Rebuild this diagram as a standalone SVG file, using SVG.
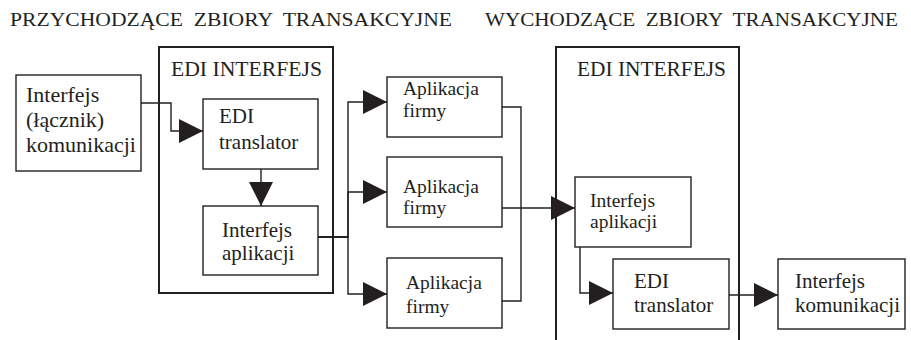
<svg xmlns="http://www.w3.org/2000/svg" width="911" height="340" viewBox="0 0 911 340">
<style>
text{font-family:'Liberation Serif','DejaVu Serif',serif;font-size:21px;fill:#231f20}
.t{font-size:19.5px}
.a{font-size:19.5px}
.l{font-size:22px}
.box{fill:#fff;stroke:#231f20;stroke-width:1.4}
.outer{fill:none;stroke:#231f20;stroke-width:2}
.c{fill:none;stroke:#231f20;stroke-width:1.4}
</style>
<defs>
<marker id="ah" markerUnits="userSpaceOnUse" markerWidth="26" markerHeight="25" refX="24" refY="12" orient="auto">
<path d="M0,0 L24,12 L0,24 Z" fill="#231f20"/>
</marker>
</defs>
<rect width="911" height="340" fill="#fff"/>
<g id="titles">
<text class="t" x="10" y="26" textLength="442" lengthAdjust="spacingAndGlyphs" xml:space="preserve">PRZYCHODZĄCE  ZBIORY  TRANSAKCYJNE</text>
<text class="t" x="485" y="26" textLength="413" lengthAdjust="spacingAndGlyphs" xml:space="preserve">WYCHODZĄCE  ZBIORY  TRANSAKCYJNE</text>
</g>
<g id="edi-left">
<rect class="outer" x="159" y="47" width="174" height="246"/>
<text x="171" y="76" textLength="151" lengthAdjust="spacingAndGlyphs">EDI INTERFEJS</text>
</g>
<g id="edi-right">
<path class="outer" d="M556,341 V47 H739 V341"/>
<text x="577" y="76" textLength="149" lengthAdjust="spacingAndGlyphs">EDI INTERFEJS</text>
</g>
<g id="connectors">
<path class="c" d="M141,103 H171 V131 H203" marker-end="url(#ah)"/>
<path class="c" d="M261,169 V206" marker-end="url(#ah)"/>
<path class="c" d="M318,237 H348 V102 H387" marker-end="url(#ah)"/>
<path class="c" d="M318,237 H348 V192 H387" marker-end="url(#ah)"/>
<path class="c" d="M318,237 H348 V294 H387" marker-end="url(#ah)"/>
<path class="c" d="M502,107 H521 V208"/>
<path class="c" d="M502,301 H521 V208"/>
<path class="c" d="M502,208 H575" marker-end="url(#ah)"/>
<path class="c" d="M580,247 V293 H613" marker-end="url(#ah)"/>
<path class="c" d="M729,295 H778" marker-end="url(#ah)"/>
</g>
<g id="komunikacja-in">
<rect class="box" x="16" y="75" width="125" height="96"/>
<text class="l" x="26" y="102">Interfejs</text>
<text class="l" x="26" y="127">(łącznik)</text>
<text class="l" x="26" y="152">komunikacji</text>
</g>
<g id="translator-left">
<rect class="box" x="203" y="99" width="115" height="70"/>
<text x="219" y="123">EDI</text>
<text x="219" y="149">translator</text>
</g>
<g id="aplikacji-left">
<rect class="box" x="203" y="206" width="115" height="69"/>
<text x="222" y="237">Interfejs</text>
<text x="222" y="260">aplikacji</text>
</g>
<g id="app1">
<rect class="box" x="387" y="77" width="115" height="60"/>
<text class="a" x="403" y="95">Aplikacja</text>
<text class="a" x="403" y="117">firmy</text>
</g>
<g id="app2">
<rect class="box" x="387" y="157" width="115" height="70"/>
<text class="a" x="403" y="193">Aplikacja</text>
<text class="a" x="403" y="214">firmy</text>
</g>
<g id="app3">
<rect class="box" x="387" y="258" width="115" height="70"/>
<text class="a" x="406" y="289">Aplikacja</text>
<text class="a" x="406" y="313">firmy</text>
</g>
<g id="aplikacji-right">
<rect class="box" x="575" y="177" width="116" height="70"/>
<text class="a" x="590" y="207">Interfejs</text>
<text class="a" x="590" y="228">aplikacji</text>
</g>
<g id="translator-right">
<rect class="box" x="613" y="259" width="116" height="70"/>
<text x="634" y="288">EDI</text>
<text x="634" y="312">translator</text>
</g>
<g id="komunikacja-out">
<rect class="box" x="778" y="259" width="127" height="70"/>
<text x="795" y="288">Interfejs</text>
<text x="795" y="312">komunikacji</text>
</g>
</svg>
